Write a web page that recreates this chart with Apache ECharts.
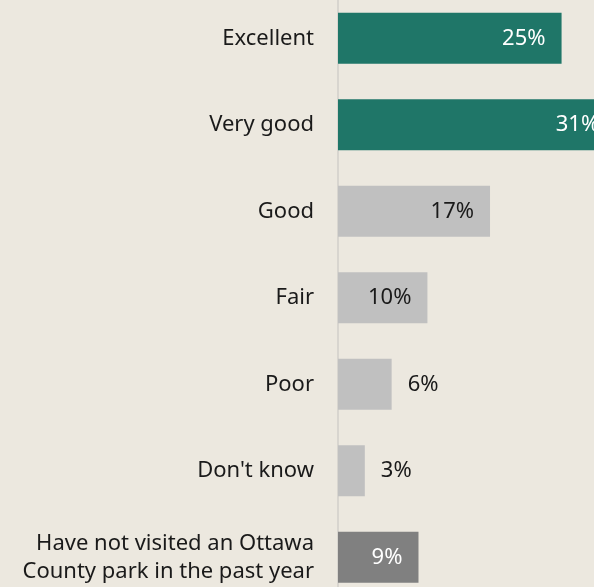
<!DOCTYPE html>
<html>
<head>
<meta charset="utf-8">
<script src="https://cdn.jsdelivr.net/npm/echarts@6/dist/echarts.min.js"></script>
<style>
  html, body { margin: 0; padding: 0; background: #ece8df; }
  #chart { width: 594px; height: 587px; }
</style>
</head>
<body>
<div id="chart"></div>
<script>
// Park rating responses (percent of respondents)
const categories = [
  'Excellent',
  'Very good',
  'Good',
  'Fair',
  'Poor',
  "Don't know",
  'Have not visited an Ottawa\nCounty park in the past year'
];
const values = [25, 31, 17, 10, 6, 3, 9];

// Bar fill per category group
const barColors = ['#1f7668', '#1f7668', '#c0c0c0', '#c0c0c0', '#c0c0c0', '#c0c0c0', '#808080'];
// Value label colour and placement per bar
const labelColors = ['#ffffff', '#ffffff', '#1a1a1a', '#1a1a1a', '#1a1a1a', '#1a1a1a', '#ffffff'];
const labelInside = [true, true, true, true, false, false, true];

const FONT = 'Noto Sans';

const chart = echarts.init(document.getElementById('chart'), null, { renderer: 'canvas' });

const seriesData = values.map((v, i) => ({
  value: v,
  itemStyle: { color: barColors[i] },
  label: {
    position: labelInside[i] ? 'insideRight' : 'right',
    distance: 16,
    color: labelColors[i]
  }
}));

chart.setOption({
  backgroundColor: '#ece8df',
  animation: false,
  grid: {
    left: 338, top: -5, width: 313, height: 605.5,
    containLabel: false,
    outerBoundsMode: 'none'
  },
  xAxis: {
    type: 'value',
    min: 0,
    max: 35,
    show: false
  },
  yAxis: {
    type: 'category',
    inverse: true,
    data: categories,
    axisLine: { show: true, lineStyle: { color: '#d8d5cf', width: 2 } },
    axisTick: { show: false },
    axisLabel: {
      margin: 24,
      color: '#1a1a1a',
      fontFamily: FONT,
      fontSize: 22,
      lineHeight: 28,
      align: 'right'
    }
  },
  series: [{
    type: 'bar',
    data: seriesData,
    barCategoryGap: '41%',
    clip: false,
    label: {
      show: true,
      fontFamily: FONT,
      fontSize: 22,
      formatter: p => p.value + '%'
    }
  }]
});
</script>
</body>
</html>
